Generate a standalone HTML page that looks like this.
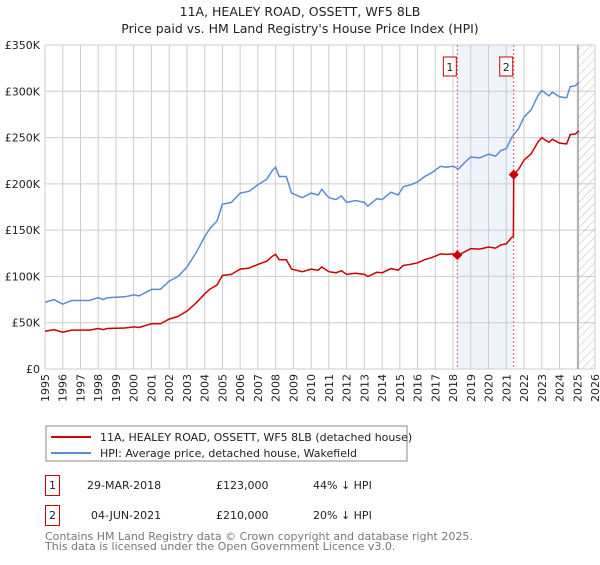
<!DOCTYPE html>
<html><head><meta charset="utf-8"><style>
body{margin:0;background:#fff;font-family:"Liberation Sans","DejaVu Sans",sans-serif;}
svg text{font-family:"DejaVu Sans","Liberation Sans",sans-serif;}
</style></head><body>
<svg id="c" width="600" height="560" xmlns="http://www.w3.org/2000/svg">
<defs><pattern id="hatch" width="6" height="6" patternUnits="userSpaceOnUse" patternTransform="rotate(45)"><line x1="0" y1="0" x2="0" y2="6" stroke="#bbb" stroke-width="1"/></pattern></defs>
<text x="300" y="16" text-anchor="middle" font-size="12.5" fill="#222">11A, HEALEY ROAD, OSSETT, WF5 8LB</text>
<text x="300" y="33" text-anchor="middle" font-size="12.5" fill="#222">Price paid vs. HM Land Registry's House Price Index (HPI)</text>
<g id="grid"></g><g id="marks"></g><g id="axes"></g>
<rect x="46" y="426" width="361" height="35" fill="#fff" stroke="#888"/>
<line x1="51" y1="437" x2="91" y2="437" stroke="#cc0000" stroke-width="2"/>
<text x="100" y="441" font-size="11" fill="#222">11A, HEALEY ROAD, OSSETT, WF5 8LB (detached house)</text>
<line x1="51" y1="453" x2="91" y2="453" stroke="#5b8bd0" stroke-width="2"/>
<text x="100" y="457" font-size="11" fill="#222">HPI: Average price, detached house, Wakefield</text>
<rect x="45.5" y="475.5" width="14" height="20" fill="#fff" stroke="#cc0000"/>
<text x="52.5" y="489" font-size="11" text-anchor="middle" fill="#222">1</text>
<text x="87" y="489" font-size="11" fill="#222">29-MAR-2018</text>
<text x="216" y="489" font-size="11" fill="#222">£123,000</text>
<text x="313" y="489" font-size="11" fill="#222">44% ↓ HPI</text>
<rect x="45.5" y="505.5" width="14" height="20" fill="#fff" stroke="#cc0000"/>
<text x="52.5" y="519" font-size="11" text-anchor="middle" fill="#222">2</text>
<text x="91" y="519" font-size="11" fill="#222">04-JUN-2021</text>
<text x="216" y="519" font-size="11" fill="#222">£210,000</text>
<text x="313" y="519" font-size="11" fill="#222">20% ↓ HPI</text>
<text x="45" y="540" font-size="11" fill="#777">Contains HM Land Registry data © Crown copyright and database right 2025.</text>
<text x="45" y="550" font-size="11" fill="#777">This data is licensed under the Open Government Licence v3.0.</text>
</svg>
<script>
const hpiYears=[1995,1995.5,1996,1996.5,1997.5,1998,1998.3,1998.5,1999.5,2000,2000.3,2001,2001.5,2002,2002.5,2003,2003.5,2004,2004.3,2004.7,2005,2005.5,2006,2006.5,2007,2007.5,2007.8,2008,2008.2,2008.6,2008.9,2009.5,2010,2010.4,2010.6,2011,2011.4,2011.7,2012,2012.5,2013,2013.2,2013.7,2014,2014.5,2014.9,2015.2,2015.6,2016,2016.4,2016.8,2017.3,2017.6,2018,2018.3,2018.6,2019,2019.5,2020,2020.4,2020.7,2021,2021.3,2021.7,2022,2022.4,2022.8,2023,2023.4,2023.6,2024,2024.4,2024.6,2024.9,2025.1];
const hpiValues=[72,75,70,74,74,77,75,77,78,80,79,86,86,95,100,110,125,143,152,160,178,180,190,192,199,205,214,218,208,208,190,185,190,188,194,185,183,187,180,182,180,176,184,183,191,188,197,199,202,208,212,219,218,219,216,222,229,228,232,230,236,238,250,260,272,280,296,301,295,299,294,293,305,306,310];
const saleYears=[2018.24,2021.42];
const salePrices=[123,210];
const yTicks=[0,50,100,150,200,250,300,350];
const yTickLabels=["£0","£50K","£100K","£150K","£200K","£250K","£300K","£350K"];
const xTicks=[1995,1996,1997,1998,1999,2000,2001,2002,2003,2004,2005,2006,2007,2008,2009,2010,2011,2012,2013,2014,2015,2016,2017,2018,2019,2020,2021,2022,2023,2024,2025,2026];

const L=45,R=595,T=45,B=369,Y0=1995,Y1=2026,VMAX=350;
const X=y=>L+(y-Y0)/(Y1-Y0)*(R-L);
const Yv=v=>B-v/VMAX*(B-T);
const NS="http://www.w3.org/2000/svg";
function mk(p,tag,a){const e=document.createElementNS(NS,tag);for(const k in a)e.setAttribute(k,a[k]);p.appendChild(e);return e;}
const grid=document.getElementById('grid'),marks=document.getElementById('marks'),axes=document.getElementById('axes');
mk(grid,'rect',{x:L,y:T,width:R-L,height:B-T,fill:'#fff'});
const shade=mk(grid,'rect',{x:X(saleYears[0]),y:T,width:X(saleYears[1])-X(saleYears[0]),height:B-T,fill:'#eef3fc'});


xTicks.forEach(t=>{mk(grid,'line',{x1:X(t),y1:T,x2:X(t),y2:B,stroke:'#ccc','stroke-width':1});});
yTicks.forEach(t=>{mk(grid,'line',{x1:L,y1:Yv(t),x2:R,y2:Yv(t),stroke:'#ccc','stroke-width':1});});
const hatch=mk(grid,'rect',{x:X(2025.05),y:T,width:R-X(2025.05),height:B-T,fill:'url(#hatch)'});


mk(grid,'line',{x1:X(2025.05),y1:T,x2:X(2025.05),y2:B,stroke:'#888','stroke-width':1});
yTicks.forEach((t,i)=>{const e=mk(axes,'text',{x:L-5,y:Yv(t)+4,'text-anchor':'end','font-size':11,fill:'#222'});e.textContent=yTickLabels[i];

});
xTicks.forEach(t=>{const e=mk(axes,'text',{x:0,y:0,'text-anchor':'end','font-size':11,fill:'#222',transform:`translate(${X(t)+4},${B+5}) rotate(-90)`});e.textContent=t;

});
saleYears.forEach((s,i)=>{mk(marks,'line',{x1:X(s),y1:T,x2:X(s),y2:B,stroke:'#e06060','stroke-width':1,'stroke-dasharray':'2,2'});
const b=mk(marks,'rect',{x:X(s)-14,y:57,width:13,height:19,fill:'#fff',stroke:'#cc0000'});


const tx=mk(marks,'text',{x:X(s)-7.5,y:71,'text-anchor':'middle','font-size':11,fill:'#222'});tx.textContent=String(i+1);});
function interp(y){for(let i=1;i<hpiYears.length;i++){if(y<=hpiYears[i]){const f=(y-hpiYears[i-1])/(hpiYears[i]-hpiYears[i-1]);return hpiValues[i-1]+f*(hpiValues[i]-hpiValues[i-1]);}}return hpiValues[hpiValues.length-1];}
const hp=mk(marks,'path',{d:hpiYears.map((y,i)=>(i?'L':'M')+X(y).toFixed(1)+','+Yv(hpiValues[i]).toFixed(1)).join(''),fill:'none',stroke:'#5b8bd0','stroke-width':1.5});


const f1=salePrices[0]/interp(saleYears[0]),f2=salePrices[1]/interp(saleYears[1]);
let pts=[];
hpiYears.forEach((y,i)=>{if(y<saleYears[1])pts.push([y,hpiValues[i]*f1]);});
pts.push([saleYears[1]-0.02,interp(saleYears[1]-0.02)*f1]);
pts.push([saleYears[1],salePrices[1]]);
hpiYears.forEach((y,i)=>{if(y>saleYears[1])pts.push([y,hpiValues[i]*f2]);});
pts.sort((a,b)=>a[0]-b[0]);
const rp=mk(marks,'path',{d:pts.map((p,i)=>(i?'L':'M')+X(p[0]).toFixed(1)+','+Yv(p[1]).toFixed(1)).join(''),fill:'none',stroke:'#cc0000','stroke-width':1.5});


saleYears.forEach((s,i)=>{const x=X(s),y=Yv(salePrices[i]);const d=mk(marks,'path',{d:`M${x-5},${y}L${x},${y-5}L${x+5},${y}L${x},${y+5}Z`,fill:'#cc0000'});

});
</script>
</body></html>
